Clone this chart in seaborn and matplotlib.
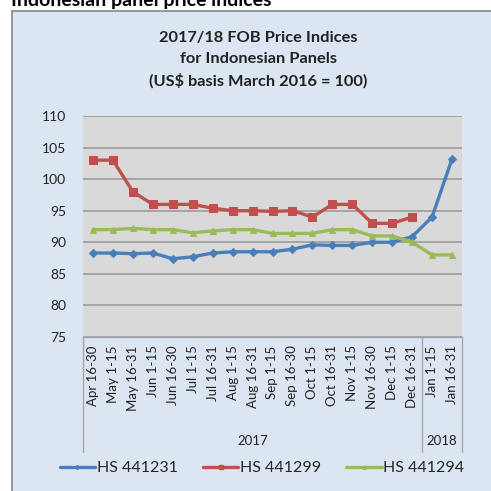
import numpy as np
import pandas as pd
import matplotlib
matplotlib.use("Agg")
import matplotlib.pyplot as plt
from matplotlib.patches import Rectangle
from matplotlib.lines import Line2D
import seaborn as sns

# Data
periods = ["Apr 16-30", "May 1-15", "May 16-31", "Jun 1-15", "Jun 16-30",
           "Jul 1-15", "Jul 16-31", "Aug 1-15", "Aug 16-31", "Sep 1-15",
           "Sep 16-30", "Oct 1-15", "Oct 16-31", "Nov 1-15", "Nov 16-30",
           "Dec 1-15", "Dec 16-31", "Jan 1-15", "Jan 16-31"]
years = ["2017"] * 17 + ["2018"] * 2
hs_441231 = [88.3, 88.3, 88.2, 88.3, 87.4, 87.7, 88.3, 88.5, 88.5, 88.5,
             88.9, 89.6, 89.5, 89.5, 90.0, 90.0, 90.9, 94.0, 103.2]
hs_441299 = [103.0, 103.0, 98.0, 96.0, 96.0, 96.0, 95.4, 95.0, 95.0, 94.9,
             95.0, 94.0, 96.0, 96.0, 93.0, 93.0, 94.0, np.nan, np.nan]
hs_441294 = [92.0, 92.0, 92.2, 92.0, 92.0, 91.5, 91.8, 92.0, 92.0, 91.4,
             91.4, 91.4, 92.0, 92.0, 91.0, 91.0, 90.0, 88.0, 88.0]
series_names = ["HS 441231", "HS 441299", "HS 441294"]

BLUE = "#4A7EBB"
RED = "#C0504D"
GREEN = "#9BBB59"
BG = "#DCE6F2"

df = pd.DataFrame({"idx": np.arange(len(periods)),
                   "HS 441231": hs_441231,
                   "HS 441299": hs_441299,
                   "HS 441294": hs_441294})

sns.set_theme(style="white")
plt.rcParams["font.family"] = ["Lato", "DejaVu Sans"]

W = H = 491
fig = plt.figure(figsize=(W / 100, H / 100), dpi=100, facecolor="white")

def fx(px):
    return px / W

def fy(py):
    return 1 - py / H

# outer chart box
fig.patches.append(Rectangle((fx(12), fy(600)), fx(600), fy(11) - fy(600),
                             transform=fig.transFigure, facecolor=BG,
                             edgecolor="#868686", linewidth=1.2, zorder=-10))

fig.text(fx(11), fy(6), "Indonesian panel price indices", fontsize=14,
         fontweight="bold", color="black", ha="left", va="baseline")

for yy, line in [(38, "2017/18 FOB Price Indices"),
                 (59, "for Indonesian Panels"),
                 (81, "(US$ basis March 2016 = 100)")]:
    fig.text(fx(258), fy(yy), line, fontsize=11.8, fontweight="bold",
             color="#222222", ha="center", va="center")

left, right, top, bottom = 83, 462, 116, 337
ax = fig.add_axes([fx(left), fy(bottom), fx(right) - fx(left), fy(top) - fy(bottom)])
ax.set_facecolor("#D9D9D9")

styles = [("HS 441231", BLUE, "D", 4),
          ("HS 441299", RED, "s", 6),
          ("HS 441294", GREEN, "^", 5)]
for name, color, marker, ms in styles:
    sns.lineplot(data=df, x="idx", y=name, ax=ax, color=color, linewidth=2.4,
                 marker=marker, markersize=ms, markeredgecolor=color, zorder=3)

n = len(periods)
ax.set_xlim(-0.5, n - 0.5)
ax.set_ylim(75, 110)
ax.set_yticks(range(75, 111, 5))
ax.yaxis.grid(True, color="#A0A0A0", linewidth=1.3)
ax.xaxis.grid(False)
ax.set_axisbelow(True)
for s in ["left", "right", "top"]:
    ax.spines[s].set_visible(False)
ax.spines["bottom"].set_color("#A6A6A6")
ax.spines["bottom"].set_linewidth(1.0)
ax.set_xlabel("")
ax.set_ylabel("")
ax.tick_params(axis="y", length=0, pad=12, labelsize=10, labelcolor="#222222")
ax.set_xticks(range(n))
ax.set_xticklabels(periods, rotation=90, fontsize=9.5, color="#222222")
ax.tick_params(axis="x", length=0, pad=6)

# year grouping below the category labels
trans = ax.get_xaxis_transform()
year_names = list(dict.fromkeys(years))
edges = [-0.5]
for y in year_names:
    edges.append(edges[-1] + years.count(y))
sep_bottom = (fy(452) - fy(bottom)) / (fy(top) - fy(bottom))
for e in edges:
    ax.plot([e, e], [0, sep_bottom], transform=trans, color="#A6A6A6",
            linewidth=1.0, clip_on=False)
label_y = (fy(441) - fy(bottom)) / (fy(top) - fy(bottom))
for i, y in enumerate(year_names):
    ax.text((edges[i] + edges[i + 1]) / 2, label_y, y, transform=trans,
            ha="center", va="center", fontsize=9.5, color="#222222")

handles = [Line2D([], [], color=c, linewidth=2.4, marker=m, markersize=ms * 0.5,
                  markeredgecolor=c) for _, c, m, ms in styles]
fig.legend(handles, series_names, loc="center", ncol=3, frameon=False,
           bbox_to_anchor=(fx(262), fy(468)), fontsize=11.5, handlelength=2.2,
           handletextpad=0.1, columnspacing=1.6)

fig.savefig("out.png", dpi=100, facecolor=fig.get_facecolor())
